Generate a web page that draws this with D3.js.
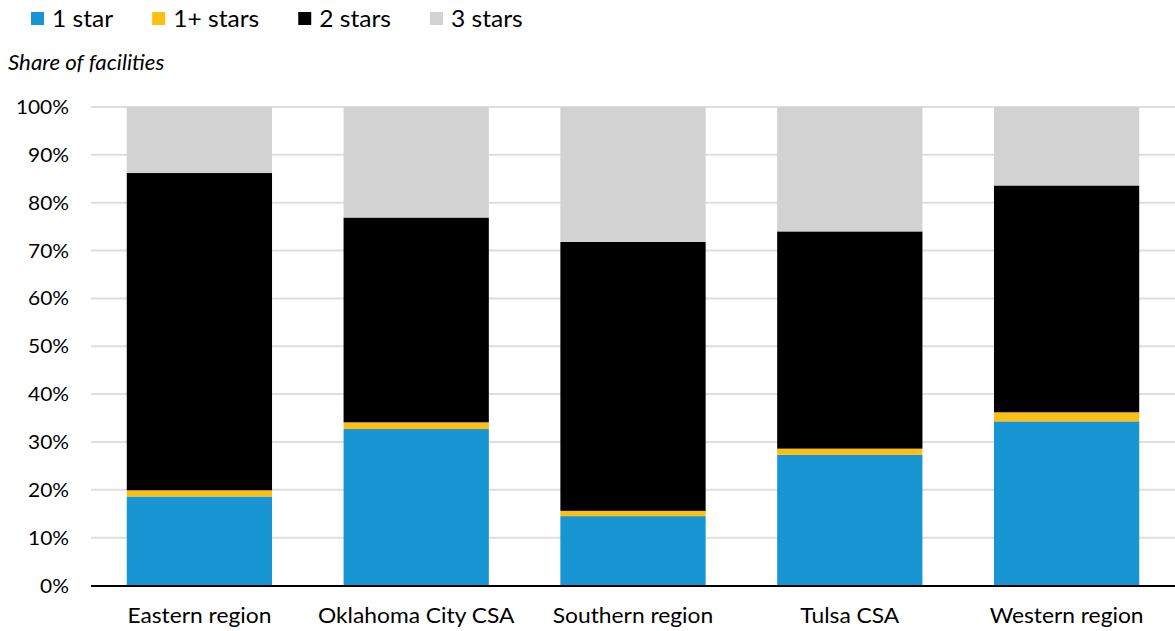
<!DOCTYPE html>
<html lang="en">
<head>
<meta charset="UTF-8">
<title>Share of facilities by star rating</title>
<script src="https://d3js.org/d3.v7.min.js"></script>
<style>
    body { margin: 0; background: #fff; font-family: Lato, "Open Sans", sans-serif; }
    svg text { fill: #000; }
</style>
</head>
<body>
<div id="chart"></div>
<script>
const regions = ["Eastern region", "Oklahoma City CSA", "Southern region", "Tulsa CSA", "Western region"];
const seriesNames = ["1 star", "1+ stars", "2 stars", "3 stars"];
const oneStar   = [18.6, 32.7, 14.5, 27.3, 34.3];
const onePlus   = [1.3, 1.4, 1.1, 1.3, 1.9];
const twoStars  = [66.3, 42.8, 56.2, 45.4, 47.4];
const threeStars = [13.8, 23.1, 28.2, 26.0, 16.4];
const yTicks = [0, 10, 20, 30, 40, 50, 60, 70, 80, 90, 100];
const colors = ["#1896d3", "#fdbf11", "#000000", "#d2d2d2"];

const width = 1175, height = 631;
const margin = {top: 107, right: 0, bottom: 45, left: 91};

const rows = regions.map((r, i) => ({
    region: r,
    "1 star": oneStar[i],
    "1+ stars": onePlus[i],
    "2 stars": twoStars[i],
    "3 stars": threeStars[i]
}));

const svg = d3.select("#chart").append("svg")
    .attr("width", width)
    .attr("height", height);

// text in the original is set a bit wider than Lato, so stretch it slightly
function label(parent, tx, ty, str, size, sx, anchor) {
    return parent.append("text")
        .attr("transform", `translate(${tx},${ty}) scale(${sx},1)`)
        .attr("text-anchor", anchor || "start")
        .style("font-size", size + "px")
        .text(str);
}

const x = d3.scaleBand()
    .domain(regions)
    .range([margin.left, width - margin.right])
    .paddingInner(0.33)
    .paddingOuter(0.165);

const y = d3.scaleLinear()
    .domain([0, 100])
    .range([height - margin.bottom - 0.5, margin.top]);

// gridlines
svg.append("g")
    .selectAll("line")
    .data(yTicks.filter(d => d > 0))
    .join("line")
    .attr("x1", margin.left)
    .attr("x2", width - margin.right)
    .attr("y1", d => y(d))
    .attr("y2", d => y(d))
    .attr("stroke", "#dedede")
    .attr("stroke-width", 2);

// y labels
const yAxis = svg.append("g");
yTicks.forEach(d => {
    label(yAxis, 69, y(d) + 7, d + "%", 19, 1.1, "end");
});

const stack = d3.stack().keys(seriesNames)(rows);
const color = d3.scaleOrdinal().domain(seriesNames).range(colors);

svg.append("g")
    .selectAll("g")
    .data(stack)
    .join("g")
    .attr("fill", d => color(d.key))
    .selectAll("rect")
    .data(d => d)
    .join("rect")
    .attr("x", d => x(d.data.region))
    .attr("width", x.bandwidth())
    .attr("y", d => y(Math.min(d[1], 100)))
    .attr("height", d => y(d[0]) - y(Math.min(d[1], 100)));

// baseline
svg.append("line")
    .attr("x1", margin.left)
    .attr("x2", width - margin.right)
    .attr("y1", y(0) + 0.5)
    .attr("y2", y(0) + 0.5)
    .attr("stroke", "#000")
    .attr("stroke-width", 2);

// x labels
const xAxis = svg.append("g");
regions.forEach(d => {
    label(xAxis, x(d) + x.bandwidth() / 2, 623, d, 21.5, 1.06, "middle");
});

// axis title
label(svg, 8, 70, "Share of facilities", 21, 1.06).style("font-style", "italic");

// legend
const legend = svg.append("g");
let lx = 31;
seriesNames.forEach((name, i) => {
    legend.append("rect")
        .attr("x", lx)
        .attr("y", 12)
        .attr("width", 13)
        .attr("height", 13)
        .attr("fill", colors[i]);
    const t = label(legend, lx + 21, 27, name, 23, 1.07);
    lx += 21 + t.node().getComputedTextLength() * 1.07 + 39;
});
</script>
</body>
</html>
